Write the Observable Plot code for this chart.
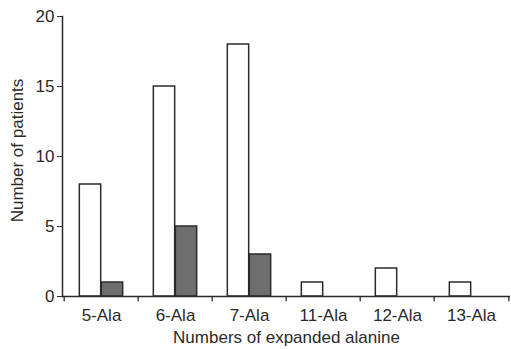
<!DOCTYPE html>
<html>
<head>
<meta charset="utf-8">
<script src="https://cdn.jsdelivr.net/npm/d3@7"></script>
<script src="https://cdn.jsdelivr.net/npm/@observablehq/plot@0.6"></script>
<style>
  html, body { margin: 0; padding: 0; background: #fff; }
</style>
</head>
<body>
<div id="chart"></div>
<script>
const categories = ["5-Ala", "6-Ala", "7-Ala", "11-Ala", "12-Ala", "13-Ala"];
const whiteValues = [8, 15, 18, 1, 2, 1];
const greyValues = [1, 5, 3, 0, 0, 0];
const yTicks = [0, 5, 10, 15, 20];
const xTitle = "Numbers of expanded alanine";
const yTitle = "Number of patients";

const width = 511, height = 349;
const marginLeft = 62, marginRight = 1, marginTop = 16, marginBottom = 53;
const bw = (width - marginLeft - marginRight) / categories.length;
const barW = 22;

const whiteData = categories.map((c, i) => ({cat: c, v: whiteValues[i]}));
const greyData = categories.map((c, i) => ({cat: c, v: greyValues[i]})).filter(d => d.v > 0);
const ink = "#2a2a2a";

const chart = Plot.plot({
  width, height, marginLeft, marginRight, marginTop, marginBottom,
  style: {fontFamily: "'Liberation Sans', Arial, Helvetica, sans-serif", fontSize: "17px", color: ink, background: "#fff"},
  x: {type: "band", domain: categories, padding: 0, axis: null},
  y: {domain: [0, 20], axis: null},
  marks: [
    Plot.barY(whiteData, {x: "cat", y: "v", fill: "#fff", stroke: ink, strokeWidth: 1.5,
      insetLeft: bw / 2 - barW, insetRight: bw / 2}),
    Plot.barY(greyData, {x: "cat", y: "v", fill: "#6e6e6e", stroke: ink, strokeWidth: 1.5,
      insetLeft: bw / 2, insetRight: bw / 2 - barW}),
    Plot.ruleY([0], {stroke: ink, strokeWidth: 1.5}),
    Plot.frame({anchor: "left", stroke: ink, strokeWidth: 1.5}),
    Plot.ruleX(categories, {x: d => d, dx: -bw / 2, y1: 0, y2: -0.38, stroke: ink, strokeWidth: 1.3}),
    Plot.ruleX(categories.slice(-1), {x: d => d, dx: bw / 2, y1: 0, y2: -0.38, stroke: ink, strokeWidth: 1.3}),
    Plot.axisX({tickSize: 0, tickPadding: 12, fontSize: 17, label: null, color: ink}),
    Plot.axisY({ticks: yTicks, tickSize: 5, tickPadding: 3, fontSize: 17, label: null, color: ink, tickFormat: d => String(d)}),
    Plot.text([xTitle], {frameAnchor: "bottom", dy: 46, lineAnchor: "bottom", textAnchor: "middle", fontSize: 17, fill: ink}),
    Plot.text([yTitle], {frameAnchor: "left", rotate: -90, dx: -40, dy: -6, lineAnchor: "bottom", textAnchor: "middle", fontSize: 17, fill: ink})
  ]
});
document.getElementById("chart").appendChild(chart);
</script>
</body>
</html>
